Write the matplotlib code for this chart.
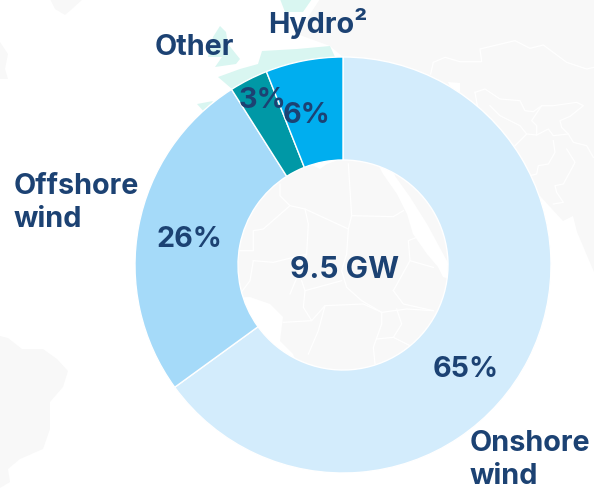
import matplotlib
matplotlib.use('Agg')
import matplotlib.pyplot as plt
from matplotlib.patches import Polygon

labels = ['Onshore wind', 'Offshore wind', 'Other', 'Hydro']
values = [65, 26, 3, 6]
pct_labels = ['65%', '26%', '3%', '6%']
colors = ['#D3ECFC', '#A5DAF9', '#0098A6', '#00AEEF']
centre_text = '9.5 GW'

W, H = 594, 489
plt.rcParams['font.family'] = ['Inter', 'DejaVu Sans']
fig = plt.figure(figsize=(W/100, H/100), dpi=100)
ax = fig.add_axes([0, 0, 1, 1])
navy = '#1C4273'
grey = '#F8F8F8'
mint = '#D9F6F1'
cx, cy, R = 343, 266, 208

def Y(y):
    return H - y

def poly(pts, fc, z=0):
    ax.add_patch(Polygon([(x, Y(y)) for x, y in pts], closed=True, fc=fc, ec='none', zorder=z))

def zline(pts, ox, oy):
    ax.plot([ox + x/3 for x, y in pts], [Y(oy + y/3) for x, y in pts],
            color='white', lw=0.9, zorder=0.5, solid_joinstyle='round')

# --- decorative faint map behind the chart ---
poly([(320,0),(594,0),(594,273),(577,233),(573,217),(563,222),(540,197),(500,240),(450,268),(447,262),
      (427,225),(410,198),(395,177),(380,120),(343,58),(330,47),(297,35)], grey)
poly([(200,160),(300,150),(310,165),(320,170),(327,165),(370,150),(383,175),(397,195),(407,215),(413,235),
      (427,255),(438,268),(443,278),(480,290),(470,420),(310,400),(293,355),(280,342),(283,318),(270,305),
      (250,298),(200,300)], grey)
poly([(0,337),(8,339),(22,350),(43,350),(57,360),(68,372),(63,388),(50,403),(50,430),(43,450),(20,460),
      (8,470),(10,483),(0,489)], grey)
poly([(50,0),(83,0),(72,10),(65,16),(55,10)], grey)
poly([(0,43),(8,55),(5,70),(8,80),(0,80)], grey)
poly([(448,83),(460,84),(460,93),(452,92)], 'white', 0.2)
# Europe highlighted
poly([(213,38),(220,27),(226,33),(228,45),(240,60),(236,65),(215,68),(222,58),(208,58)], mint)
poly([(218,78),(240,70),(258,65),(262,52),(297,50),(330,47),(335,58),(290,66),(245,95),(232,90)], mint)
poly([(280,0),(312,0),(303,13),(285,13)], mint)
poly([(197,105),(213,102),(206,115)], mint)

for pts in [
    [(355,30),(365,185),(355,225),(350,300),(335,350),(350,400),(395,440),(455,475)],
    [(365,185),(490,188),(520,170)],
    [(150,90),(150,125),(180,155),(225,165),(355,225)],
    [(180,155),(100,225),(70,230),(70,290),(25,290)],
    [(225,165),(235,210),(230,300),(180,420)],
    [(70,320),(130,325),(230,300)],
    [(215,380),(225,410),(335,380)],
    [(225,410),(220,460),(245,500),(285,455),(400,450),(455,475),(530,465),(610,470)],
    [(245,500),(160,505)],
    [(285,455),(265,530),(235,600)],
    [(455,475),(455,510),(430,580),(435,630)],
    [(500,465),(515,510),(490,550),(440,555)],
    [(490,550),(540,575)],
    [(490,410),(520,450),(610,470)],
    [(490,410),(540,320),(610,340)],
    [(540,320),(535,260),(560,250)],
    [(70,320),(60,380),(30,420)],
]:
    zline(pts, 230, 155)

for pts in [
    [(100,190),(135,175),(180,188),(245,188),(240,150),(345,125),(390,148),(430,138),(500,190),(560,210),(582,205)],
    [(100,190),(92,225)],
    [(225,280),(255,270),(300,300),(360,305),(375,335),(400,338),(425,320),(460,320),(530,310),(550,320),
     (510,352),(480,365),(485,385),(505,405),(520,430),(560,440),(580,475)],
    [(225,280),(232,320)],
    [(270,320),(300,350),(360,380),(380,405),(345,440)],
    [(380,405),(410,408),(445,390),(460,410),(505,405)],
    [(425,320),(395,365),(410,380),(410,408)],
    [(460,425),(465,460),(445,495),(415,500),(410,525),(390,530)],
    [(520,500),(490,555),(465,560),(470,580),(490,610),(460,615)],
    [(500,450),(525,490),(520,500)],
]:
    zline(pts, 400, 0)

wedges, _ = ax.pie(values, colors=colors, startangle=90, counterclock=False,
                   center=(cx, Y(cy)), radius=R,
                   wedgeprops=dict(width=R-105, edgecolor='white', linewidth=1), frame=False)
ax.set_xlim(0, W); ax.set_ylim(0, H); ax.set_aspect('auto'); ax.axis('off')

def txt(x, y, s, ha='center', size=20.7):
    ax.text(x, Y(y), s, ha=ha, va='center', color=navy, fontsize=size, fontweight='bold',
            linespacing=1.27, zorder=5)

txt(345, 270, centre_text, size=21.5)
txt(466, 370, pct_labels[0])
txt(189, 240, pct_labels[1])
txt(263, 101, pct_labels[2])
txt(307, 116, pct_labels[3])
txt(14, 203, 'Offshore\nwind', ha='left')
txt(470, 460, 'Onshore\nwind', ha='left')
txt(194, 48, 'Other')
txt(318, 24, 'Hydro²')
fig.savefig('out.png', dpi=100)
